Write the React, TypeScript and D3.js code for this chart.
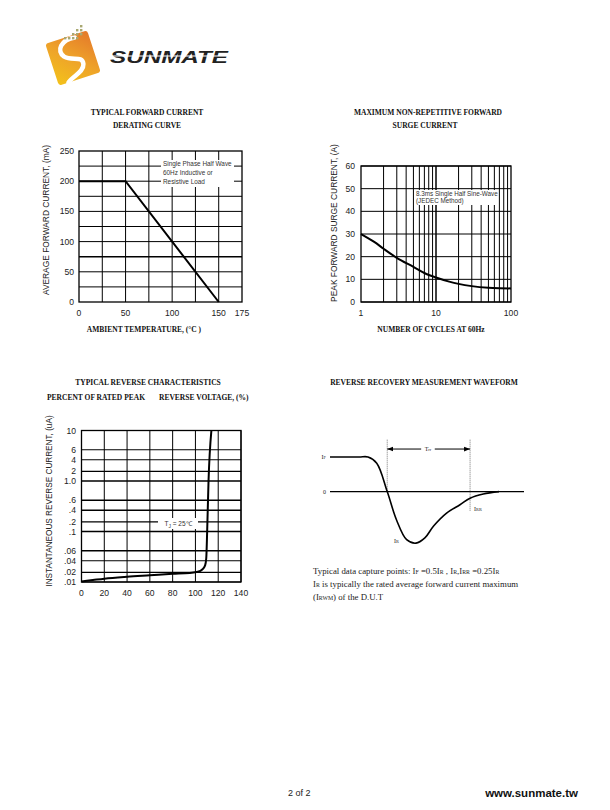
import React from 'react';
import * as d3 from 'd3';

// ---- chart 1: derating curve ----
const tempTicks = [0, 50, 100, 150, 175];
const tempGrid = [25, 50, 75, 100, 125, 150];
const currTicks = [0, 50, 100, 150, 200, 250];
const currGrid = [25, 50, 75, 100, 125, 150, 175, 200, 225];
const deratingTemp = [0, 50, 150];
const deratingCurrent = [200, 200, 0];

// ---- chart 2: surge current ----
const cycleTicks = [1, 10, 100];
const cycleGrid = [2, 3, 4, 5, 6, 7, 8, 9, 10, 20, 30, 40, 50, 60, 70, 80, 90];
const surgeTicks = [0, 10, 20, 30, 40, 50, 60];
const surgeCycles = [1, 1.5, 2, 3, 5, 7, 10, 15, 20, 30, 50, 70, 100];
const surgeAmps = [30, 26.5, 23.5, 19.5, 15.5, 12.8, 10.8, 9, 8, 7, 6.3, 6.1, 6];

// ---- chart 3: reverse characteristics ----
const voltTicks = [0, 20, 40, 60, 80, 100, 120, 140];
const revTicks = [0.01, 0.02, 0.04, 0.06, 0.1, 0.2, 0.4, 0.6, 1, 2, 4, 6, 10];
const revTickLabels = ['.01', '.02', '.04', '.06', '.1', '.2', '.4', '.6', '1.0', '2', '4', '6', '10'];
const revVolt = [0, 10, 20, 40, 60, 80, 95, 102, 106, 108.5, 109.5, 110.3, 111.5, 114];
const revCurrent = [0.0105, 0.012, 0.0135, 0.0155, 0.017, 0.0185, 0.0195, 0.021, 0.025, 0.032, 0.045, 0.1, 1, 10];

// ---- chart 4: recovery waveform (time %, current in units of IF) ----
const waveTime = [0, 15, 19.6, 24.1, 29.5, 34.3, 39.5, 44.3, 48.9, 53.3, 60.1, 67, 72.2, 79, 87.1];
const waveCurrent = [1, 1, 1, 0.82, 0, -0.82, -1.39, -1.49, -1.34, -1.0, -0.62, -0.38, -0.19, -0.07, 0];

const sans = '"Liberation Sans", Arial, sans-serif';
const serif = '"Liberation Serif", "Times New Roman", serif';

const Title: React.FC<{ x: number; y: number; children: React.ReactNode; anchor?: string }> = ({ x, y, children, anchor = 'middle' }) => (
  <text x={x} y={y} textAnchor={anchor as any} fontFamily={serif} fontWeight="bold" fontSize={7.5} fill="#111">{children}</text>
);

const Derating: React.FC = () => {
  const x = d3.scaleLinear().domain([0, 175]).range([79, 242]);
  const y = d3.scaleLinear().domain([0, 250]).range([302, 151]);
  const line = d3.line<number>().x((_, i) => x(deratingTemp[i])).y(d => y(d));
  return (
    <g>
      <Title x={147} y={115}>TYPICAL FORWARD CURRENT</Title>
      <Title x={147} y={128}>DERATING CURVE</Title>
      {tempGrid.map(t => <line key={'v' + t} x1={x(t)} x2={x(t)} y1={y(0)} y2={y(250)} stroke="#000" strokeWidth={1} />)}
      {currGrid.map(c => <line key={'h' + c} x1={x(0)} x2={x(175)} y1={y(c)} y2={y(c)} stroke="#000" strokeWidth={c === 75 ? 1.6 : 1} />)}
      <rect x={x(0)} y={y(250)} width={x(175) - x(0)} height={y(0) - y(250)} fill="none" stroke="#000" strokeWidth={1.3} />
      <rect x={161} y={160} width={73} height={27} fill="#fff" />
      <g fontFamily={sans} fontSize={6.4} fill="#333">
        <text x={163} y={166}>Single Phase Half Wave</text>
        <text x={163} y={175}>60Hz Inductive or</text>
        <text x={163} y={184}>Resistive Load</text>
      </g>
      <path d={line(deratingCurrent) || ''} fill="none" stroke="#000" strokeWidth={2} />
      <g fontFamily={sans} fontSize={8.6} fill="#222">
        {currTicks.map(c => <text key={c} x={74} y={y(c) + 3} textAnchor="end">{c}</text>)}
        {tempTicks.map(t => <text key={t} x={x(t)} y={316} textAnchor="middle">{t}</text>)}
        <text transform={`translate(49,${220}) rotate(-90)`} textAnchor="middle" fontSize={8.4}>AVERAGE FORWARD CURRENT, (mA)</text>
      </g>
      <Title x={144} y={332}>AMBIENT TEMPERATURE, (°C )</Title>
    </g>
  );
};

const Surge: React.FC = () => {
  const x = d3.scaleLog().domain([1, 100]).range([361, 511]);
  const y = d3.scaleLinear().domain([0, 60]).range([302, 166]);
  const line = d3.line<number>().x((_, i) => x(surgeCycles[i])).y(d => y(d)).curve(d3.curveMonotoneX);
  return (
    <g>
      <Title x={428} y={115}>MAXIMUM NON-REPETITIVE FORWARD</Title>
      <Title x={425} y={128}>SURGE CURRENT</Title>
      {cycleGrid.map(c => <line key={'v' + c} x1={x(c)} x2={x(c)} y1={y(0)} y2={y(60)} stroke="#000" strokeWidth={c === 10 ? 1.5 : 1} />)}
      {surgeTicks.map(a => <line key={'h' + a} x1={x(1)} x2={x(100)} y1={y(a)} y2={y(a)} stroke="#000" strokeWidth={1} />)}
      <rect x={x(1)} y={y(60)} width={x(100) - x(1)} height={y(0) - y(60)} fill="none" stroke="#000" strokeWidth={1.3} />
      <rect x={415} y={190} width={82} height={15} fill="#fff" />
      <g fontFamily={sans} fontSize={6.3} fill="#333">
        <text x={416} y={196}>8.3ms Single Half Sine-Wave</text>
        <text x={416} y={203}>(JEDEC Method)</text>
      </g>
      <path d={line(surgeAmps) || ''} fill="none" stroke="#000" strokeWidth={2} />
      <g fontFamily={sans} fontSize={8.6} fill="#222">
        {surgeTicks.map(a => <text key={a} x={355} y={y(a) + 3} textAnchor="end">{a}</text>)}
        {cycleTicks.map(c => <text key={c} x={x(c)} y={316} textAnchor="middle">{c}</text>)}
        <text transform={`translate(337,${223}) rotate(-90)`} textAnchor="middle" fontSize={8.4}>PEAK FORWARD SURGE CURRENT, (A)</text>
      </g>
      <Title x={431} y={332}>NUMBER OF CYCLES AT 60Hz</Title>
    </g>
  );
};

const Reverse: React.FC = () => {
  const x = d3.scaleLinear().domain([0, 140]).range([81.5, 241]);
  // the printed chart spaces its sub-decade lines unevenly; mimic with a piecewise mantissa scale
  const mantissa = d3.scaleLinear().domain([1, 2, 4, 6, 10]).range([0, 0.19, 0.42, 0.62, 1]);
  const decades = d3.scaleLinear().domain([0, 3]).range([582, 430.5]);
  const y = (v: number) => {
    const e = Math.min(2, Math.floor(Math.log10(v / 0.01) + 1e-9));
    const m = v / (0.01 * Math.pow(10, e));
    return decades(e + mantissa(m));
  };
  const line = d3.line<number>().x((_, i) => x(revVolt[i])).y(d => y(d)).curve(d3.curveMonotoneX);
  return (
    <g>
      <Title x={148} y={385}>TYPICAL REVERSE CHARACTERISTICS</Title>
      <Title x={47} y={400} anchor="start">PERCENT OF RATED PEAK</Title>
      <Title x={159} y={400} anchor="start">REVERSE VOLTAGE, (%)</Title>
      {voltTicks.map(v => <line key={'v' + v} x1={x(v)} x2={x(v)} y1={y(0.01)} y2={y(10)} stroke="#000" strokeWidth={1} />)}
      {revTicks.map(r => <line key={'h' + r} x1={x(0)} x2={x(140)} y1={y(r)} y2={y(r)} stroke="#000" strokeWidth={[1, 0.6, 0.4, 0.1, 0.06].includes(r) ? 1.6 : 1.1} />)}
      <rect x={x(0)} y={y(10)} width={x(140) - x(0)} height={y(0.01) - y(10)} fill="none" stroke="#000" strokeWidth={1.3} />
      <rect x={158} y={518} width={40} height={11} fill="#fff" />
      <text x={178} y={526} textAnchor="middle" fontFamily={sans} fontSize={6.5} fill="#333">T<tspan fontSize={4.8} dy={1.5}>J</tspan><tspan dy={-1.5}> = 25℃</tspan></text>
      <path d={line(revCurrent) || ''} fill="none" stroke="#000" strokeWidth={2} />
      <g fontFamily={sans} fontSize={8.6} fill="#222">
        {revTicks.map((r, i) => <text key={r} x={76} y={y(r) + 3} textAnchor="end">{revTickLabels[i]}</text>)}
        {voltTicks.map(v => <text key={v} x={x(v)} y={596} textAnchor="middle">{v}</text>)}
        <text transform={`translate(52,${501}) rotate(-90)`} textAnchor="middle" fontSize={8.2}>INSTANTANEOUS REVERSE CURRENT, (uA)</text>
      </g>
    </g>
  );
};

const Waveform: React.FC = () => {
  const x = d3.scaleLinear().domain([0, 100]).range([330, 524]);
  const y = d3.scaleLinear().domain([-1.5, 1]).range([543.5, 457]);
  const line = d3.line<number>().x((_, i) => x(waveTime[i])).y(d => y(d)).curve(d3.curveCatmullRom);
  const t1 = 29.5, t2 = 72.2, ya = 1.23;
  return (
    <g>
      <Title x={424} y={385}>REVERSE RECOVERY MEASUREMENT WAVEFORM</Title>
      <defs>
        <marker id="arr" viewBox="0 0 10 10" refX={10} refY={5} markerWidth={6} markerHeight={6} orient="auto-start-reverse">
          <path d="M0,1 L10,5 L0,9 z" fill="#000" />
        </marker>
      </defs>
      <line x1={x(0)} x2={x(100)} y1={y(0)} y2={y(0)} stroke="#000" strokeWidth={1.2} />
      <line x1={x(t1)} x2={x(t1)} y1={y(1.5)} y2={y(0)} stroke="#555" strokeWidth={0.8} strokeDasharray="1,1" />
      <line x1={x(t2)} x2={x(t2)} y1={y(1.5)} y2={y(-0.58)} stroke="#555" strokeWidth={0.8} strokeDasharray="1,1" />
      <line x1={x(t1)} x2={x(47)} y1={y(ya)} y2={y(ya)} stroke="#000" strokeWidth={1} markerStart="url(#arr)" />
      <line x1={x(54)} x2={x(t2)} y1={y(ya)} y2={y(ya)} stroke="#000" strokeWidth={1} markerEnd="url(#arr)" />
      <path d={line(waveCurrent) || ''} fill="none" stroke="#000" strokeWidth={1.6} />
      <g fontFamily={serif} fontSize={6} fill="#222">
        <text x={x(50.5)} y={y(ya) + 2} textAnchor="middle">T<tspan fontSize={4.3}>rr</tspan></text>
        <text x={326} y={y(1) + 2} textAnchor="end">I<tspan fontSize={4.3}>F</tspan></text>
        <text x={326} y={y(0) + 2} textAnchor="end">0</text>
        <text x={x(t2) + 4} y={511}>I<tspan fontSize={4.3}>RR</tspan></text>
        <text x={394} y={543}>I<tspan fontSize={4.3}>R</tspan></text>
      </g>
      <g fontFamily={serif} fontSize={8.8} fill="#222">
        <text x={313} y={574}>Typical data capture points: I<tspan fontSize={5.8}>F</tspan> =0.5I<tspan fontSize={5.8}>R</tspan> , I<tspan fontSize={5.8}>R</tspan>,I<tspan fontSize={5.8}>RR</tspan> =0.25I<tspan fontSize={5.8}>R</tspan></text>
        <text x={313} y={587}>I<tspan fontSize={5.8}>R</tspan> is typically the rated average forward current maximum</text>
        <text x={313} y={600}>(I<tspan fontSize={5.8}>RWM</tspan>) of the D.U.T</text>
      </g>
    </g>
  );
};

const Logo: React.FC = () => {
  const dots = [[64, 37], [68, 37], [72, 37], [76, 37], [72, 33], [76, 33], [80, 33], [76, 29], [80, 29], [80, 25]];
  return (
    <g>
      <defs>
        <linearGradient id="lg" x1="0" y1="1" x2="1" y2="0">
          <stop offset="0" stopColor="#f3c21a" />
          <stop offset="0.5" stopColor="#eea22a" />
          <stop offset="1" stopColor="#e4782a" />
        </linearGradient>
      </defs>
      <g transform="translate(73,58) rotate(-18)">
        <rect x={-22} y={-22} width={44} height={44} rx={3} fill="url(#lg)" />
        <path d="M8,-19 C-6,-21 -14,-12 -8,-4 C-2,3 10,0 8,9 C6,17 -6,17 -12,22" fill="none" stroke="#fff" strokeWidth={4.5} strokeLinecap="round" />
      </g>
      {dots.map(([dx, dy], i) => <rect key={i} x={dx} y={dy} width={2.4} height={2.4} fill="#a9a872" />)}
      <text x={110} y={63} fontFamily={sans} fontWeight="900" fontStyle="italic" fontSize={17} textLength={118} lengthAdjust="spacingAndGlyphs" fill="#222">SUNMATE</text>
      <line x1={108} x2={230} y1={56} y2={56} stroke="#fff" strokeWidth={1.2} />
    </g>
  );
};

export default function App() {
  return (
    <svg width={610} height={810} style={{ position: 'absolute', left: 0, top: 0, background: '#fff' }}>
      <Logo />
      <Derating />
      <Surge />
      <Reverse />
      <Waveform />
      <text x={288} y={796} fontFamily={sans} fontSize={9} fill="#222">2 of 2</text>
      <text x={578} y={797} textAnchor="end" fontFamily={sans} fontWeight="bold" fontSize={11.5} fill="#111">www.sunmate.tw</text>
    </svg>
  );
}
